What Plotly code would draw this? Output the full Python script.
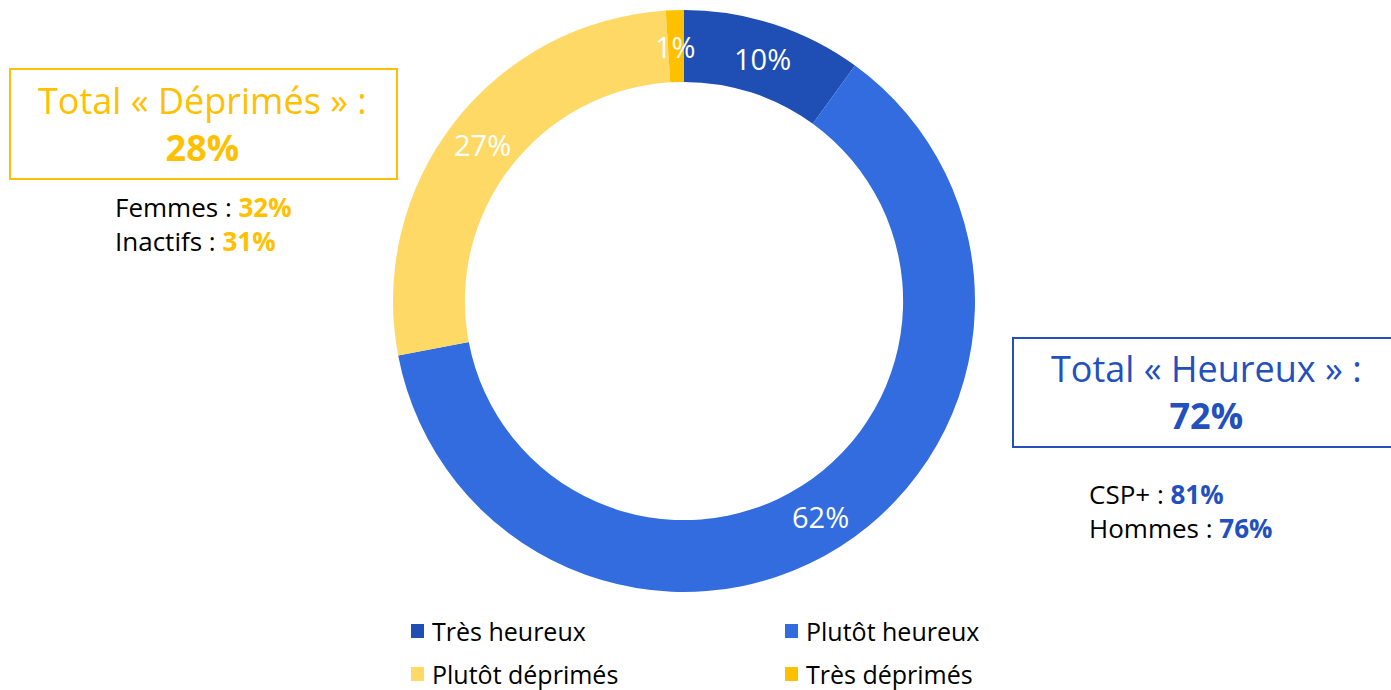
import math
import plotly.graph_objects as go

W, H = 1391, 690

categories = ["Très heureux", "Plutôt heureux", "Plutôt déprimés", "Très déprimés"]
values = [10, 62, 27, 1]
colors = ["#1F4EB4", "#336CDE", "#FFD966", "#FFC000"]

total_deprimes = "28%"
total_heureux = "72%"
dep_details = [("Femmes", "32%"), ("Inactifs", "31%")]
heu_details = [("CSP+", "81%"), ("Hommes", "76%")]

FONT = "Open Sans"
YEL = "#FFC000"
BLU = "#2350BD"

def px(x):
    return x / W

def py(y):
    return 1 - y / H

def txt(x, y, text, size, color, xanchor="center", align="left"):
    return dict(x=px(x), y=py(y), xref="paper", yref="paper", showarrow=False,
                xanchor=xanchor, yanchor="middle", align=align, borderpad=0,
                text=text, font=dict(family=FONT, size=size, color=color))

cx, cy, R = 684, 301, 291
hole = 0.753

fig = go.Figure(go.Pie(
    labels=categories, values=values, sort=False, direction="clockwise",
    rotation=0, hole=hole, marker=dict(colors=colors, line=dict(width=0)),
    textinfo="none", hoverinfo="label+percent", showlegend=False,
    domain=dict(x=[px(cx - R), px(cx + R)], y=[py(cy + R), py(cy - R)]),
))

# slice labels placed at the middle of each ring segment, computed from values
annotations = []
tot = sum(values)
cum = 0
rmid = R * (1 + hole) / 2
for v in values:
    a = 2 * math.pi * (cum + v / 2) / tot
    cum += v
    annotations.append(txt(cx + rmid * math.sin(a), cy - rmid * math.cos(a),
                           f"{round(100 * v / tot)}%", 29, "white"))

annotations += [
    txt(203, 124, f"Total « Déprimés » :<br><b>{total_deprimes}</b>", 36, YEL, align="center"),
    txt(1206, 392, f"Total « Heureux » :<br><b>{total_heureux}</b>", 36, BLU, align="center"),
    txt(114, 224, "<br>".join(f"{k} : <b><span style='color:{YEL}'>{v}</span></b>" for k, v in dep_details),
        26, "black", "left"),
    txt(1088, 511, "<br>".join(f"{k} : <b><span style='color:{BLU}'>{v}</span></b>" for k, v in heu_details),
        26, "black", "left"),
]

shapes = [
    dict(type="rect", xref="paper", yref="paper", x0=px(10), x1=px(397), y0=py(179), y1=py(69),
         line=dict(color=YEL, width=2), fillcolor="rgba(0,0,0,0)"),
    dict(type="rect", xref="paper", yref="paper", x0=px(1013), x1=px(1400), y0=py(447), y1=py(338),
         line=dict(color=BLU, width=2), fillcolor="rgba(0,0,0,0)"),
]

# legend (2 columns x 2 rows)
for i, (lab, col) in enumerate(zip(categories, colors)):
    r, c = divmod(i, 2)
    x0 = 411 + c * 374
    yc = 631 + r * 43
    shapes.append(dict(type="rect", xref="paper", yref="paper", x0=px(x0), x1=px(x0 + 13),
                       y0=py(yc + 7), y1=py(yc - 7), line=dict(width=0), fillcolor=col))
    annotations.append(txt(x0 + 20, yc, lab, 25, "black", "left"))

fig.update_layout(
    width=W, height=H, margin=dict(l=0, r=0, t=0, b=0),
    paper_bgcolor="white", plot_bgcolor="white",
    annotations=annotations, shapes=shapes,
    showlegend=False,
)

fig.write_html("out.html", config={"displayModeBar": False},
               post_script="document.body.style.margin='0';")
